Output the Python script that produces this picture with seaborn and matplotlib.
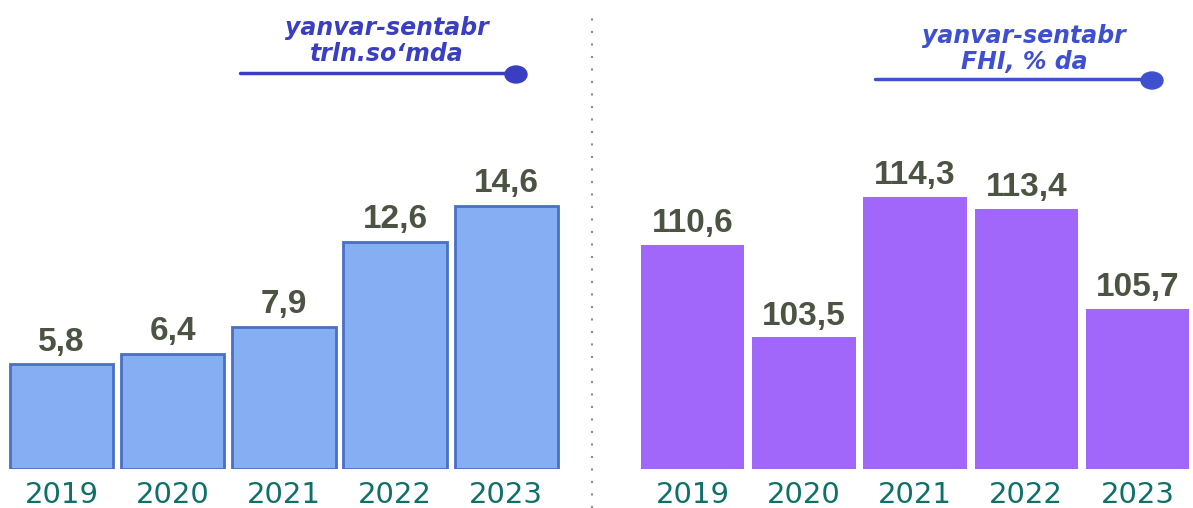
import matplotlib
matplotlib.use("Agg")
import matplotlib.pyplot as plt
import seaborn as sns
import pandas as pd
from matplotlib.lines import Line2D
from matplotlib.patches import Ellipse

# data
years = ["2019", "2020", "2021", "2022", "2023"]
volume = [5.8, 6.4, 7.9, 12.6, 14.6]        # trln. so'm
index_pct = [110.6, 103.5, 114.3, 113.4, 105.7]  # FHI, %

left_title = "yanvar-sentabr\ntrln.so\u2018mda"
right_title = "yanvar-sentabr\nFHI, % da"

sns.set_style("white")
plt.rcParams["font.family"] = ["Liberation Sans", "DejaVu Sans"]

fig = plt.figure(figsize=(11.93, 5.08), dpi=100)
ax1 = fig.add_axes([0.005, 0.0768, 0.466, 0.628])
ax2 = fig.add_axes([0.534, 0.0768, 0.466, 0.628])

val_color = "#4b5443"
tick_color = "#0f7068"


def fmt(v):
    return f"{v:.1f}".replace(".", ",")


def draw(ax, values, fill, edge, lw, ylim, pad):
    df = pd.DataFrame({"Year": years, "Value": values})
    sns.barplot(data=df, x="Year", y="Value", color=fill, width=0.93,
                edgecolor=edge, linewidth=lw, saturation=1, ax=ax)
    ax.bar_label(ax.containers[0], labels=[fmt(v) for v in values],
                 padding=pad, fontsize=24, fontweight="bold", color=val_color)
    ax.set_ylim(*ylim)
    ax.set_xlim(-0.5, 4.5)
    ax.set_xlabel("")
    ax.set_ylabel("")
    ax.set_yticks([])
    ax.tick_params(axis="x", length=0, pad=9, labelcolor=tick_color)
    for t in ax.get_xticklabels():
        t.set_fontfamily("DejaVu Sans")
        t.set_fontsize(21)
    sns.despine(ax=ax, left=True, bottom=True)
    ax.patch.set_alpha(0)


draw(ax1, volume, "#86aff3", "#4a70c4", 2, (0, 17.7), 5)
draw(ax2, index_pct, "#a067fa", "none", 0, (93.4, 117.9), 4)

# header notes
def header(text, xc, y_text, x0, x1, y_line, color):
    fig.text(xc / 1193, 1 - y_text / 508, text, ha="center", va="center",
             fontsize=17, fontweight="bold", fontstyle="italic", color=color,
             family="DejaVu Sans", linespacing=1.1)
    fig.add_artist(Line2D([x0 / 1193, x1 / 1193], [1 - y_line / 508] * 2,
                          color=color, lw=2.5, transform=fig.transFigure))
    fig.add_artist(Ellipse((x1 / 1193, 1 - (y_line + 1.5) / 508),
                           22 / 1193, 17 / 508, color=color,
                           transform=fig.transFigure))


header(left_title, 387, 41, 240, 516, 73, "#3a3fc2")
header(right_title, 1024, 49, 875, 1152, 79, "#3e4fd0")

# dotted divider
fig.add_artist(Line2D([592 / 1193] * 2, [0, 0.985], color="#8c8c8c", lw=1.5,
                      linestyle=(0, (1, 5)), transform=fig.transFigure))

fig.savefig("out.png", dpi=100, facecolor="white")
